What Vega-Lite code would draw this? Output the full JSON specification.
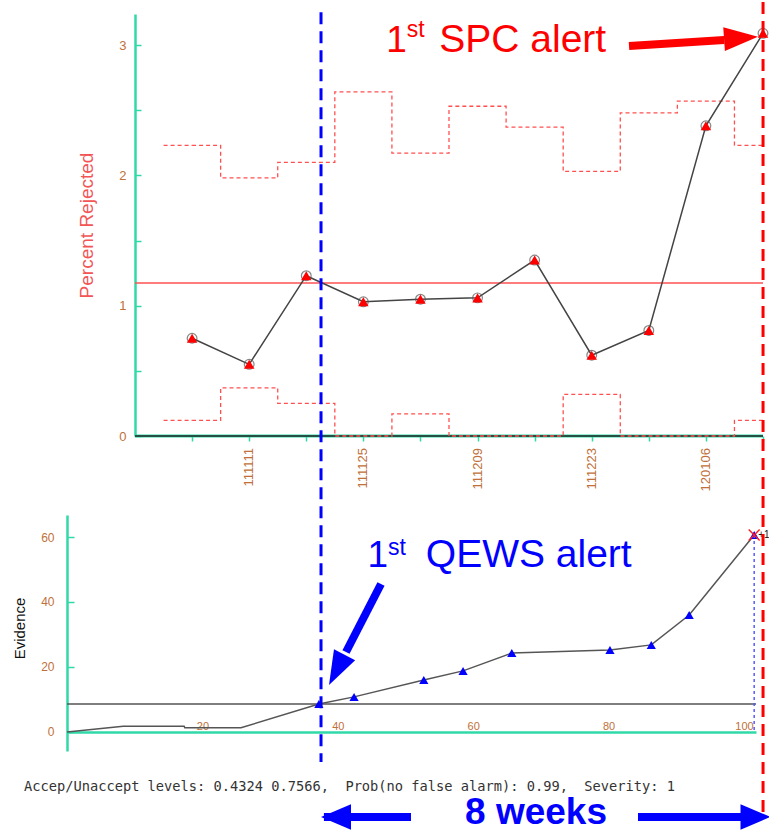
{
  "$schema": "https://vega.github.io/schema/vega-lite/v6.json",
  "padding": {"left": 12, "top": 0, "right": 0, "bottom": 0},
  "bounds": "flush",
  "spacing": 79,
  "config": {"view": {"stroke": null}, "font": "Liberation Sans"},
  "datasets": {
    "spc": [
      {"week": 1, "date": "111104", "pct": 0.75, "ucl": 2.23, "lcl": 0.12},
      {"week": 2, "date": "111111", "pct": 0.55, "ucl": 1.98, "lcl": 0.37},
      {"week": 3, "date": "111118", "pct": 1.23, "ucl": 2.10, "lcl": 0.25},
      {"week": 4, "date": "111125", "pct": 1.03, "ucl": 2.64, "lcl": 0},
      {"week": 5, "date": "111202", "pct": 1.05, "ucl": 2.17, "lcl": 0.17},
      {"week": 6, "date": "111209", "pct": 1.06, "ucl": 2.53, "lcl": 0},
      {"week": 7, "date": "111216", "pct": 1.35, "ucl": 2.37, "lcl": 0},
      {"week": 8, "date": "111223", "pct": 0.62, "ucl": 2.03, "lcl": 0.32},
      {"week": 9, "date": "111230", "pct": 0.81, "ucl": 2.48, "lcl": 0},
      {"week": 10, "date": "120106", "pct": 2.38, "ucl": 2.57, "lcl": 0},
      {"week": 11, "date": "120113", "pct": 3.09, "ucl": 2.23, "lcl": 0.12}
    ],
    "qews": [
      {"n": 0, "ev": 0, "type": "none"},
      {"n": 8.3, "ev": 1.8, "type": "none"},
      {"n": 17.3, "ev": 1.8, "type": "none"},
      {"n": 17.4, "ev": 1.3, "type": "none"},
      {"n": 25.7, "ev": 1.3, "type": "none"},
      {"n": 37.2, "ev": 8.6, "type": "tri"},
      {"n": 42.4, "ev": 10.8, "type": "tri"},
      {"n": 52.7, "ev": 16.0, "type": "tri"},
      {"n": 58.5, "ev": 18.8, "type": "tri"},
      {"n": 65.7, "ev": 24.3, "type": "tri"},
      {"n": 80.2, "ev": 25.2, "type": "tri"},
      {"n": 86.3, "ev": 26.8, "type": "tri"},
      {"n": 91.9, "ev": 36.0, "type": "tri"},
      {"n": 101.5, "ev": 60.6, "type": "alarm"}
    ]
  },
  "vconcat": [
    {
      "width": 696,
      "height": 422,
      "data": {"name": "spc"},
      "layer": [
        {
          "data": {"values": [{}]},
          "mark": {"type": "rule", "color": "#30d9a8", "strokeWidth": 3},
          "encoding": {
            "x": {"datum": 0, "type": "quantitative",
              "scale": {"domain": [-1.191, 11], "nice": false, "zero": false},
              "axis": {"values": [1,2,3,4,5,6,7,8,9,10,11], "domain": false, "labels": false, "ticks": true,
                "tickColor": "#30d9a8", "tickSize": 5, "tickWidth": 1.5, "grid": false, "title": null}},
            "x2": {"datum": 11},
            "y": {"datum": 0, "type": "quantitative",
              "scale": {"domain": [0, 3.238], "nice": false, "zero": false},
              "axis": {"offset": -68, "values": [0,0.5,1,1.5,2,2.5,3],
                "labelExpr": "datum.value % 1 === 0 ? format(datum.value, 'd') : ''",
                "domainColor": "#30d9a8", "domainWidth": 2.5, "tickColor": "#30d9a8", "tickSize": -6, "tickWidth": 1.5,
                "labelColor": "#c0703a", "labelFont": "Liberation Sans", "labelFontSize": 13, "labelPadding": 15,
                "grid": false, "title": "Percent Rejected", "titleColor": "#f25555", "titleFont": "Liberation Sans",
                "titleFontSize": 19, "titleFontWeight": "normal", "titleX": -38.5, "titleY": 211}}
          }
        },
        {
          "data": {"values": [{}]},
          "mark": {"type": "rule", "color": "#222222", "strokeWidth": 1.5},
          "encoding": {"x": {"datum": 0}, "x2": {"datum": 11}, "y": {"datum": 0}}
        },
        {
          "mark": {"type": "line", "interpolate": "step", "color": "#ff5050", "strokeWidth": 1.3, "strokeDash": [4, 3]},
          "encoding": {"x": {"field": "week", "type": "quantitative"}, "y": {"field": "ucl", "type": "quantitative"}}
        },
        {
          "mark": {"type": "line", "interpolate": "step", "color": "#ff5050", "strokeWidth": 1.3, "strokeDash": [4, 3]},
          "encoding": {"x": {"field": "week", "type": "quantitative"}, "y": {"field": "lcl", "type": "quantitative"}}
        },
        {
          "transform": [{"filter": "datum.week == 1"}],
          "mark": {"type": "rule", "color": "#ff5050", "strokeWidth": 1.3, "strokeDash": [4, 3], "xOffset": -28.5},
          "encoding": {"x": {"field": "week", "type": "quantitative"}, "x2": {"field": "week"}, "y": {"field": "ucl", "type": "quantitative"}}
        },
        {
          "transform": [{"filter": "datum.week == 1"}],
          "mark": {"type": "rule", "color": "#ff5050", "strokeWidth": 1.3, "strokeDash": [4, 3], "xOffset": -28.5},
          "encoding": {"x": {"field": "week", "type": "quantitative"}, "x2": {"field": "week"}, "y": {"field": "lcl", "type": "quantitative"}}
        },
        {
          "data": {"values": [{}]},
          "mark": {"type": "rule", "color": "#ff5050", "strokeWidth": 1.3},
          "encoding": {"x": {"datum": 0}, "x2": {"datum": 11}, "y": {"datum": 1.174}}
        },
        {
          "mark": {"type": "line", "color": "#444444", "strokeWidth": 1.5},
          "encoding": {"x": {"field": "week", "type": "quantitative"}, "y": {"field": "pct", "type": "quantitative"}}
        },
        {
          "mark": {"type": "point", "shape": "circle", "filled": false, "stroke": "#555555", "strokeWidth": 1.2, "size": 95},
          "encoding": {"x": {"field": "week", "type": "quantitative"}, "y": {"field": "pct", "type": "quantitative"}}
        },
        {
          "mark": {"type": "point", "shape": "triangle-up", "filled": true, "color": "#ff0000", "size": 110, "opacity": 1},
          "encoding": {"x": {"field": "week", "type": "quantitative"}, "y": {"field": "pct", "type": "quantitative"}}
        },
        {
          "transform": [{"filter": "datum.week % 2 == 0"}],
          "mark": {"type": "text", "angle": 270, "align": "right", "baseline": "middle", "yOffset": 12,
            "fontSize": 13, "font": "Liberation Sans", "color": "#c0703a"},
          "encoding": {"x": {"field": "week", "type": "quantitative"}, "y": {"datum": 0}, "text": {"field": "date"}}
        },
        {
          "data": {"values": [{}]},
          "mark": {"type": "text", "text": "1", "align": "left", "baseline": "alphabetic", "fontSize": 37, "color": "#ff0000"},
          "encoding": {"x": {"datum": 4.40}, "y": {"datum": 2.946}}
        },
        {
          "data": {"values": [{}]},
          "mark": {"type": "text", "text": "st", "align": "left", "baseline": "alphabetic", "fontSize": 23, "color": "#ff0000"},
          "encoding": {"x": {"datum": 4.76}, "y": {"datum": 3.061}}
        },
        {
          "data": {"values": [{}]},
          "mark": {"type": "text", "text": "SPC alert", "align": "left", "baseline": "alphabetic", "fontSize": 39, "color": "#ff0000"},
          "encoding": {"x": {"datum": 5.33}, "y": {"datum": 2.946}}
        },
        {
          "data": {"values": [{}]},
          "mark": {"type": "rule", "color": "#ff0000", "strokeWidth": 8},
          "encoding": {"x": {"datum": 8.653}, "x2": {"datum": 10.32}, "y": {"datum": 2.992}, "y2": {"datum": 3.038}}
        },
        {
          "data": {"values": [{}]},
          "mark": {"type": "point", "shape": "M1,0L-1,-0.7L-1,0.7Z", "filled": true, "color": "#ff0000", "opacity": 1, "size": 1156, "angle": -4},
          "encoding": {"x": {"datum": 10.615}, "y": {"datum": 3.054}}
        }
      ]
    },
    {
      "width": 689,
      "height": 236,
      "data": {"name": "qews"},
      "layer": [
        {
          "data": {"values": [{}]},
          "mark": {"type": "rule", "color": "#555555", "strokeWidth": 1.5},
          "encoding": {
            "x": {"datum": 0, "type": "quantitative",
              "scale": {"domain": [0, 101.77], "nice": false, "zero": false},
              "axis": {"offset": -19, "values": [20, 40, 60, 80, 100], "domainColor": "#30d9a8", "domainWidth": 2.5,
                "ticks": false, "grid": false, "labelColor": "#c0703a", "labelFont": "Liberation Sans", "labelFontSize": 11,
                "labelBaseline": "alphabetic", "labelPadding": -3, "labelFlush": false, "title": null}},
            "x2": {"datum": 101.77},
            "y": {"datum": 8.6, "type": "quantitative",
              "scale": {"domain": [-5.85, 66.77], "nice": false, "zero": false},
              "axis": {"values": [0, 10, 20, 30, 40, 50, 60],
                "labelExpr": "datum.value % 20 === 0 ? format(datum.value, 'd') : ''",
                "domainColor": "#30d9a8", "domainWidth": 2.5, "tickColor": "#30d9a8", "tickSize": -7, "tickWidth": 1.5,
                "labelColor": "#c0703a", "labelFont": "Liberation Sans", "labelFontSize": 12, "labelPadding": 20,
                "grid": false, "title": "Evidence", "titleColor": "#111111", "titleFont": "Liberation Sans",
                "titleFontSize": 15, "titleFontWeight": "normal", "titleX": -40, "titleY": 113}}
          }
        },
        {
          "mark": {"type": "line", "color": "#555555", "strokeWidth": 1.5},
          "encoding": {"x": {"field": "n", "type": "quantitative"}, "y": {"field": "ev", "type": "quantitative"}}
        },
        {
          "transform": [{"filter": "datum.type != 'none'"}],
          "mark": {"type": "point", "shape": "triangle-up", "filled": true, "color": "#0000ff", "opacity": 1, "size": 85},
          "encoding": {"x": {"field": "n", "type": "quantitative"}, "y": {"field": "ev", "type": "quantitative"}}
        },
        {
          "transform": [{"filter": "datum.type == 'alarm'"}],
          "mark": {"type": "rule", "color": "#5a5aff", "strokeWidth": 1.5, "strokeDash": [3, 3]},
          "encoding": {"x": {"field": "n", "type": "quantitative"}, "y": {"field": "ev", "type": "quantitative"}, "y2": {"datum": 0}}
        },
        {
          "transform": [{"filter": "datum.type == 'alarm'"}],
          "mark": {"type": "point", "shape": "M-1,-1L1,1M-1,1L1,-1", "filled": false, "stroke": "#ff2020", "strokeWidth": 1.5, "opacity": 1, "size": 120},
          "encoding": {"x": {"field": "n", "type": "quantitative"}, "y": {"field": "ev", "type": "quantitative"}}
        },
        {
          "transform": [{"filter": "datum.type == 'alarm'"}],
          "mark": {"type": "text", "text": "+1", "align": "left", "baseline": "middle", "dx": 4, "fontSize": 10, "color": "#111111"},
          "encoding": {"x": {"field": "n", "type": "quantitative"}, "y": {"field": "ev", "type": "quantitative"}}
        },
        {
          "data": {"values": [{}]},
          "mark": {"type": "rule", "color": "#0000ff", "strokeWidth": 3, "strokeDash": [12, 7]},
          "encoding": {"x": {"datum": 37.52}, "y": {"datum": 221.5}, "y2": {"datum": -9.23}}
        },
        {
          "data": {"values": [{}]},
          "mark": {"type": "rule", "color": "#ff0000", "strokeWidth": 3, "strokeDash": [12, 7]},
          "encoding": {"x": {"datum": 102.81}, "y": {"datum": 224.6}, "y2": {"datum": -25.2}}
        },
        {
          "data": {"values": [{}]},
          "mark": {"type": "text", "text": "1", "align": "left", "baseline": "alphabetic", "fontSize": 37, "color": "#0000ff"},
          "encoding": {"x": {"datum": 44.4}, "y": {"datum": 50.8}}
        },
        {
          "data": {"values": [{}]},
          "mark": {"type": "text", "text": "st", "align": "left", "baseline": "alphabetic", "fontSize": 23, "color": "#0000ff"},
          "encoding": {"x": {"datum": 47.4}, "y": {"datum": 54.46}}
        },
        {
          "data": {"values": [{}]},
          "mark": {"type": "text", "text": "QEWS alert", "align": "left", "baseline": "alphabetic", "fontSize": 39, "color": "#0000ff"},
          "encoding": {"x": {"datum": 53.0}, "y": {"datum": 50.8}}
        },
        {
          "data": {"values": [{}]},
          "mark": {"type": "rule", "color": "#0000ff", "strokeWidth": 8},
          "encoding": {"x": {"datum": 46.38}, "x2": {"datum": 41.21}, "y": {"datum": 45.54}, "y2": {"datum": 24.62}}
        },
        {
          "data": {"values": [{}]},
          "mark": {"type": "point", "shape": "M1,0L-1,-0.7L-1,0.7Z", "filled": true, "color": "#0000ff", "opacity": 1, "size": 1156, "angle": 117.2},
          "encoding": {"x": {"datum": 39.85}, "y": {"datum": 19.11}}
        },
        {
          "data": {"values": [{}]},
          "mark": {"type": "text", "text": "Accep/Unaccept levels: 0.4324 0.7566,\u00a0\u00a0Prob(no false alarm): 0.99,\u00a0\u00a0Severity: 1",
            "align": "left", "baseline": "alphabetic", "font": "DejaVu Sans Mono", "fontSize": 13.7, "color": "#333333"},
          "encoding": {"x": {"datum": -6.35}, "y": {"datum": -18.15}}
        },
        {
          "data": {"values": [{}]},
          "mark": {"type": "text", "text": "8 weeks", "align": "center", "baseline": "alphabetic", "fontSize": 37, "fontWeight": "bold", "color": "#0000ff"},
          "encoding": {"x": {"datum": 69.28}, "y": {"datum": -28.4}}
        },
        {
          "data": {"values": [{}]},
          "mark": {"type": "rule", "color": "#0000ff", "strokeWidth": 8},
          "encoding": {"x": {"datum": 37.95}, "x2": {"datum": 50.81}, "y": {"datum": -26.15}}
        },
        {
          "data": {"values": [{}]},
          "mark": {"type": "rule", "color": "#0000ff", "strokeWidth": 8},
          "encoding": {"x": {"datum": 84.34}, "x2": {"datum": 100.0}, "y": {"datum": -26.15}}
        },
        {
          "data": {"values": [{}]},
          "mark": {"type": "point", "shape": "M1,0L-1,-0.85L-1,0.85Z", "filled": true, "color": "#0000ff", "opacity": 1, "size": 900, "angle": 180},
          "encoding": {"x": {"datum": 39.73}, "y": {"datum": -26.15}}
        },
        {
          "data": {"values": [{}]},
          "mark": {"type": "point", "shape": "M1,0L-1,-0.85L-1,0.85Z", "filled": true, "color": "#0000ff", "opacity": 1, "size": 900, "angle": 0},
          "encoding": {"x": {"datum": 101.7}, "y": {"datum": -26.15}}
        }
      ]
    }
  ]
}
